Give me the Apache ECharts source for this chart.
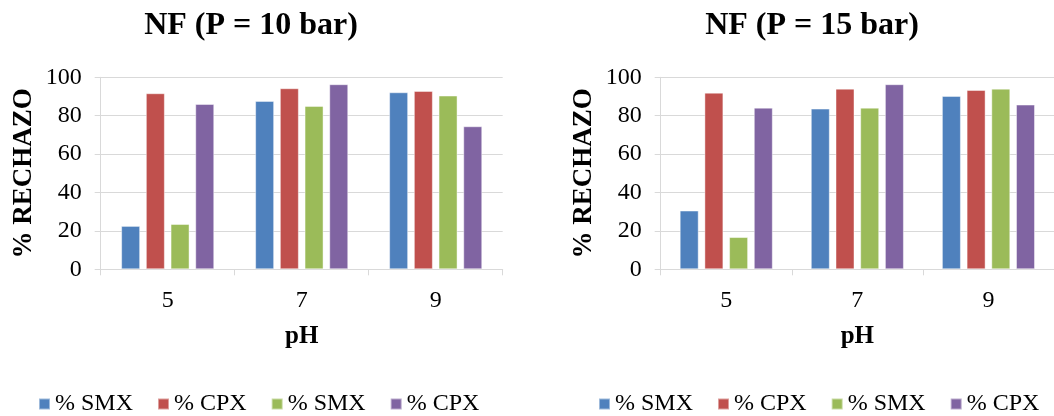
<!DOCTYPE html>
<html>
<head>
<meta charset="utf-8">
<script src="https://cdn.jsdelivr.net/npm/echarts@6/dist/echarts.min.js"></script>
<style>
  html, body { margin: 0; padding: 0; background: #fff; }
  #chart { width: 1054px; height: 416px; }
</style>
</head>
<body>
<div id="chart"></div>
<script>
// pH categories shared by both panels
const categories = ['5', '7', '9'];
const yTicks = [0, 20, 40, 60, 80, 100];

// Rejection (%) at P = 10 bar
const p10_smx1 = [22.6, 87.7, 92.2];
const p10_cpx1 = [91.7, 94.3, 92.9];
const p10_smx2 = [23.6, 85.1, 90.5];
const p10_cpx2 = [86.1, 96.4, 74.5];

// Rejection (%) at P = 15 bar
const p15_smx1 = [30.6, 83.7, 90.3];
const p15_cpx1 = [92.0, 94.1, 93.4];
const p15_smx2 = [16.8, 84.2, 94.1];
const p15_cpx2 = [84.2, 96.4, 85.8];

const titles = ['NF (P = 10 bar)', 'NF (P = 15 bar)'];
// second pair of names carries a trailing space so the legend keeps its own colour
const seriesNames = ['% SMX', '% CPX', '% SMX ', '% CPX '];
const colors = ['#4F81BD', '#C0504D', '#9BBB59', '#8064A2'];

const FONT = '"Liberation Serif", "Times New Roman", serif';
const panelLeft = [100.7, 660.7];
const panelData = [
  [p10_smx1, p10_cpx1, p10_smx2, p10_cpx2],
  [p15_smx1, p15_cpx1, p15_smx2, p15_cpx2]
];

const grid = panelLeft.map(l => ({ left: l, top: 77.3, width: 402, height: 192 }));

const xAxis = panelLeft.map((l, i) => ({
  type: 'category',
  gridIndex: i,
  data: categories,
  name: 'pH',
  nameLocation: 'middle',
  nameGap: 55,
  nameTextStyle: { fontFamily: FONT, fontSize: 25, fontWeight: 'bold', color: '#000' },
  axisLine: { lineStyle: { color: '#d9d9d9', width: 1 } },
  axisTick: { show: true, length: 6, lineStyle: { color: '#d9d9d9' } },
  axisLabel: { fontFamily: FONT, fontSize: 24, color: '#000', margin: 19 }
}));

const yAxis = panelLeft.map((l, i) => ({
  type: 'value',
  gridIndex: i,
  min: yTicks[0],
  max: yTicks[yTicks.length - 1],
  interval: yTicks[1] - yTicks[0],
  name: '% RECHAZO',
  nameLocation: 'middle',
  nameGap: 63,
  nameTextStyle: { fontFamily: FONT, fontSize: 27, fontWeight: 'bold', color: '#000' },
  axisLine: { show: true, lineStyle: { color: '#d9d9d9', width: 1 } },
  axisTick: { show: true, length: 6, lineStyle: { color: '#d9d9d9' } },
  axisLabel: { fontFamily: FONT, fontSize: 24, color: '#000', margin: 19 },
  splitLine: { lineStyle: { color: '#d9d9d9', width: 1 } }
}));

const series = [];
panelData.forEach((set, p) => {
  set.forEach((vals, k) => {
    series.push({
      type: 'bar',
      name: seriesNames[k],
      xAxisIndex: p,
      yAxisIndex: p,
      data: vals,
      barWidth: 19,
      barGap: '30%',
      itemStyle: { color: colors[k], borderColor: 'rgba(255,255,255,0.45)', borderWidth: 1 }
    });
  });
});

const title = titles.map((t, i) => ({
  text: t,
  left: 251 + i * 561,
  top: 10,
  textAlign: 'center',
  padding: 0,
  textStyle: { fontFamily: FONT, fontSize: 32, fontWeight: 'bold', color: '#000' }
}));

const legend = panelLeft.map((l, i) => ({
  data: seriesNames,
  left: 38 + i * 560,
  top: 392,
  padding: 0,
  itemWidth: 11,
  itemHeight: 11,
  itemGap: 24,
  icon: 'rect',
  formatter: n => n.trim(),
  textStyle: { fontFamily: FONT, fontSize: 24, color: '#000' }
}));

const chart = echarts.init(document.getElementById('chart'), null, { renderer: 'canvas' });
chart.setOption({
  animation: false,
  color: colors,
  title,
  legend,
  grid,
  xAxis,
  yAxis,
  series
});
</script>
</body>
</html>
